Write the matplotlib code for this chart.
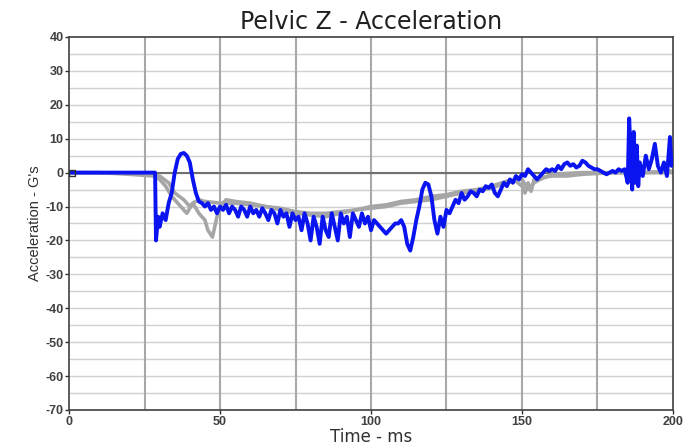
import matplotlib
matplotlib.use('Agg')
import matplotlib.pyplot as plt
import numpy as np

# blue trace (time ms, acceleration G)
blue_t = [0, 28.5, 28.8, 29.5, 30, 31, 32, 33, 34, 35, 36, 37, 38, 39, 40, 41, 42, 43, 44, 45,
          46, 47, 48, 49, 50, 51, 52, 53, 54, 55, 56, 57, 58, 59, 60, 61, 62, 63, 64, 65,
          66, 67, 68, 69, 70, 71, 72, 73, 74, 75, 76, 77, 78, 79, 80, 81, 82, 83, 84, 85,
          86, 87, 88, 89, 90, 91, 92, 93, 94, 95, 96, 97, 98, 99, 100, 101, 102, 103, 104, 105,
          106, 107, 108, 109, 110, 111, 112, 113, 114, 115, 116, 117, 118, 119, 120, 121, 122, 123, 124, 125,
          126, 127, 128, 129, 130, 131, 132, 133, 134, 135, 136, 137, 138, 139, 140, 141, 142, 143, 144, 145,
          146, 147, 148, 149, 150, 151, 152, 153, 154, 155, 156, 157, 158, 159, 160, 161, 162, 163, 164, 165,
          166, 167, 168, 169, 170, 171, 172, 173, 174, 175, 176, 177, 178, 179, 180, 181, 182, 183, 184, 185,
          185.5, 186, 186.5, 187, 187.5, 188, 188.5, 189, 190, 191, 192, 193, 194, 195, 196, 197, 198, 199, 199.5, 200]
blue_g = [0, 0, -20, -13, -16, -12, -14, -9, -6, 0, 4, 5.5, 5.8, 5, 3, -2, -6, -8.5, -9, -10,
          -9, -11, -10, -12, -10, -11, -9.5, -12, -10, -11, -13, -10, -11, -13, -10, -12, -11, -13, -10.5, -12,
          -14, -11, -12, -15, -11, -13, -12, -16, -12, -14, -13, -17, -12, -15, -20, -13, -16, -21, -13, -17,
          -19, -12, -16, -20, -12, -15, -13, -19, -12, -14, -16, -12, -15, -13, -17, -14, -15, -16, -17, -18,
          -17, -16, -15, -15, -14, -16, -21, -23, -19, -14, -10, -5, -3, -3.5, -7, -14, -18, -13, -16, -11,
          -12, -10, -8, -9, -6, -8, -7, -5.5, -6, -7, -5, -5.5, -4, -4.5, -3.5, -6, -7, -5, -3, -4,
          -2, -3, -1, -2, -0.5, -1, 1, 0, -1, -2, -1, 0, 1, 0.5, 1, 0.5, 2, 1, 2.5, 3,
          2, 2.5, 1.5, 2, 3.5, 3, 2, 1.5, 1, 1, 0.5, 0, -0.5, 0, 0.5, 0, 1, 0.5, 1, -3,
          16, 5, -5, 12, -3, 8, -4, 3, -1, 5, 1, 4, 8.5, 2, 0, 3, -1, 10.5, 2, 3]

# grey traces
grey1_t = [0, 10, 20, 28, 30, 32, 34, 36, 37, 39, 41, 43, 45, 50, 55, 60, 65, 70, 75, 80,
           85, 90, 95, 100, 105, 110, 115, 120, 125, 130, 135, 140, 145, 148, 150, 151, 152, 153, 154, 156,
           160, 165, 170, 180, 190, 200]
grey1_g = [0, 0, -0.5, -1, -2, -4, -7, -9, -10, -12, -9, -8, -8.5, -9, -9, -9.5, -10, -11, -12, -12.5,
           -13, -12, -11, -10.5, -10, -9, -8.5, -8, -7, -6, -5.5, -4.5, -3, -2.5, -4, -6, -3, -5.5, -2, -1.5,
           -1, -1, -0.5, 0, 0, 0.5]
grey2_t = [0, 20, 27, 30, 33, 35, 38, 40, 41, 43, 45, 46, 47.5, 49, 50, 52, 55, 60, 65, 70,
           75, 80, 85, 90, 95, 100, 105, 110, 115, 120, 125, 130, 135, 140, 145, 150, 152, 154, 156, 160,
           170, 180, 200]
grey2_g = [0, -0.2, -0.5, -1, -3, -6, -8, -10, -9, -12, -14, -17, -19, -13, -10, -8, -8.5, -9, -10, -10.5,
           -11.5, -12, -12, -11.5, -11, -10, -9.5, -8.5, -8, -7, -6.5, -5.5, -5, -4, -2.5, -2, -5, -3, -2, -0.5,
           0, 0, 0]

x_ticks = [0, 50, 100, 150, 200]
y_ticks = [40, 30, 20, 10, 0, -10, -20, -30, -40, -50, -60, -70]

plt.rcParams['font.family'] = ['Liberation Sans', 'DejaVu Sans']
plt.rcParams['axes.unicode_minus'] = False

fig = plt.figure(figsize=(6.93, 4.45), dpi=100)
ax = fig.add_axes([0.0996, 0.0787, 0.8715, 0.8382])

# grid
for y in np.arange(-65, 40, 5):
    ax.axhline(y, color='#d0d0d0', lw=1.0, zorder=0)
for x in np.arange(25, 200, 25):
    ax.axvline(x, color='#a8a8a8', lw=1.5, zorder=0)
ax.axhline(0, color='#707070', lw=1.5, zorder=1)

ax.plot(grey1_t, grey1_g, color='#a6a6a6', lw=2.6, zorder=2)
ax.plot(grey2_t, grey2_g, color='#a6a6a6', lw=2.6, zorder=2)
ax.plot(blue_t, blue_g, color='#0a14f0', lw=2.8, zorder=3)
ax.plot([1.0], [0], marker='s', ms=5, mfc='none', mec='#303030', mew=1, clip_on=False, zorder=4)

ax.set_xlim(0, 200)
ax.set_ylim(-70, 40)
ax.set_xticks(x_ticks)
ax.set_yticks(y_ticks)
ax.tick_params(axis='both', direction='out', length=3, width=1, colors='#303030',
               labelsize=9, pad=1)
for lab in ax.get_xticklabels() + ax.get_yticklabels():
    lab.set_fontweight('bold')
    lab.set_color('#404040')
for s in ax.spines.values():
    s.set_color('#404040')
    s.set_linewidth(1.2)

ax.set_title('Pelvic Z - Acceleration', fontsize=17, color='#202020', pad=6,
             family='DejaVu Sans')
ax.set_xlabel('Time - ms', fontsize=12, color='#303030', labelpad=0.5, family='DejaVu Sans')
ax.set_ylabel("Acceleration - G's", fontsize=10.5, color='#303030', labelpad=2)

fig.savefig('out.png', dpi=100)
